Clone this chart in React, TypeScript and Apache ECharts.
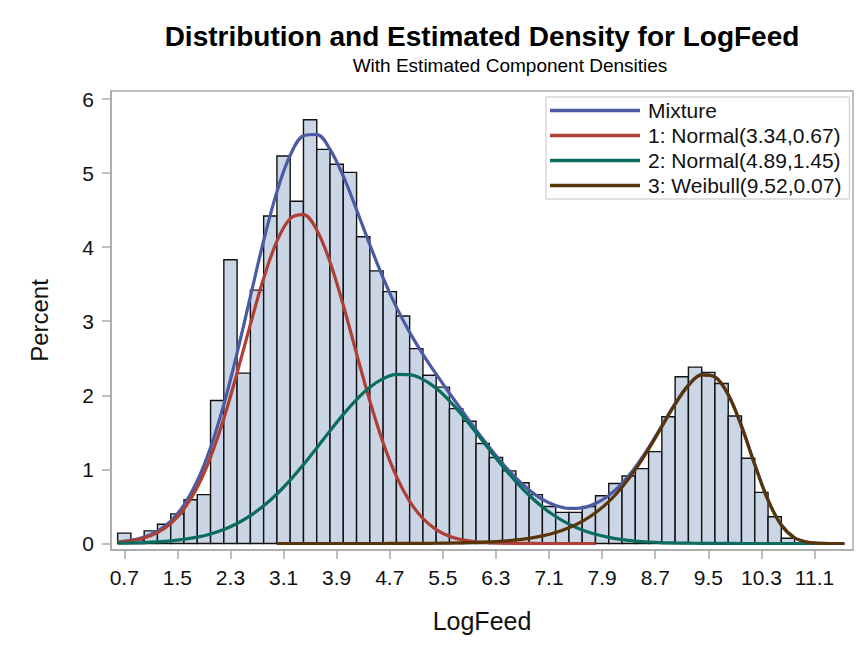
import React, { useEffect, useRef } from "react";
import * as echarts from "echarts";

// Histogram (bin midpoints, percent)
const binMidpoints = [
  0.7, 0.9, 1.1, 1.3, 1.5, 1.7, 1.9, 2.1, 2.3, 2.5, 2.7, 2.9, 3.1, 3.3, 3.5, 3.7, 3.9, 4.1, 4.3, 4.5,
  4.7, 4.9, 5.1, 5.3, 5.5, 5.7, 5.9, 6.1, 6.3, 6.5, 6.7, 6.9, 7.1, 7.3, 7.5, 7.7, 7.9, 8.1, 8.3, 8.5,
  8.7, 8.9, 9.1, 9.3, 9.5, 9.7, 9.9, 10.1, 10.3, 10.5, 10.7,
];
const binPercents = [
  0.14, 0.05, 0.17, 0.26, 0.40, 0.59, 0.66, 1.93, 3.83, 2.30, 3.42, 4.42, 5.23, 4.62, 5.72, 5.32, 5.12, 5.01, 4.14, 3.68,
  3.40, 3.07, 2.63, 2.27, 2.11, 1.82, 1.65, 1.35, 1.16, 0.98, 0.82, 0.66, 0.50, 0.42, 0.42, 0.50, 0.645, 0.81, 0.91, 1.01,
  1.24, 1.71, 2.25, 2.38, 2.31, 2.16, 1.72, 1.15, 0.69, 0.36, 0.07,
];
const binWidth = 0.2;

// Density curves (percent scale), sampled along LogFeed
const curveX = [
  0.6, 0.8, 1.0, 1.2, 1.4, 1.6, 1.8, 2.0, 2.2, 2.4, 2.6, 2.8, 3.0, 3.2, 3.4, 3.6, 3.8, 4.0, 4.2, 4.4,
  4.6, 4.8, 5.0, 5.2, 5.4, 5.6, 5.8, 6.0, 6.2, 6.4, 6.6, 6.8, 7.0, 7.2, 7.4, 7.6, 7.8, 8.0, 8.2, 8.4,
  8.6, 8.8, 9.0, 9.2, 9.4, 9.6, 9.8, 10.0, 10.2, 10.4, 10.6, 10.8, 11.0, 11.2, 11.4, 11.55,
];
const mixtureY = [
  0.020, 0.043, 0.087, 0.167, 0.302, 0.520, 0.843, 1.294, 1.876, 2.572, 3.333, 4.088, 4.750, 5.240, 5.503, 5.521, 5.320, 4.958, 4.505, 4.032,
  3.586, 3.191, 2.850, 2.554, 2.285, 2.028, 1.779, 1.533, 1.298, 1.079, 0.886, 0.722, 0.596, 0.513, 0.474, 0.481, 0.539, 0.648, 0.811, 1.029,
  1.293, 1.589, 1.887, 2.138, 2.279, 2.249, 2.010, 1.584, 1.065, 0.585, 0.249, 0.077, 0.016, 0.002, 0.000, 0.000,
];
const normal1Y = [
  0.016, 0.036, 0.075, 0.146, 0.268, 0.465, 0.758, 1.165, 1.687, 2.302, 2.957, 3.580, 4.082, 4.385, 4.438, 4.231, 3.800, 3.215, 2.562, 1.924,
  1.361, 0.907, 0.569, 0.337, 0.188, 0.098, 0.049, 0.023, 0.010, 0.004, 0.002, 0.001, 0, 0, 0, 0, 0, null, null, null,
  null, null, null, null, null, null, null, null, null, null, null, null, null, null, null, null,
];
const normal2Y = [
  0.004, 0.007, 0.012, 0.021, 0.034, 0.055, 0.085, 0.129, 0.189, 0.270, 0.376, 0.508, 0.668, 0.855, 1.065, 1.290, 1.520, 1.743, 1.943, 2.108,
  2.225, 2.284, 2.280, 2.215, 2.094, 1.925, 1.721, 1.497, 1.267, 1.043, 0.836, 0.651, 0.493, 0.364, 0.261, 0.182, 0.124, 0.082, 0.052, 0.033,
  0.020, 0.012, 0.007, 0.004, 0.002, 0.001, 0.001, 0, 0, 0, 0, 0, 0, 0, 0, 0,
];
const weibullY = [
  null, null, null, null, null, null, null, null, null, null, null, null, 0, 0, 0, 0, 0, 0, 0, 0,
  0, 0.001, 0.001, 0.002, 0.003, 0.005, 0.009, 0.013, 0.021, 0.032, 0.048, 0.070, 0.103, 0.149, 0.213, 0.299, 0.415, 0.566, 0.759, 0.996,
  1.273, 1.577, 1.880, 2.134, 2.277, 2.248, 2.009, 1.584, 1.065, 0.585, 0.249, 0.077, 0.016, 0.002, 0, 0,
];

const xTickValues = [0.7, 1.5, 2.3, 3.1, 3.9, 4.7, 5.5, 6.3, 7.1, 7.9, 8.7, 9.5, 10.3, 11.1];
const yTickValues = [0, 1, 2, 3, 4, 5, 6];

const seriesNames = ["Mixture", "1: Normal(3.34,0.67)", "2: Normal(4.89,1.45)", "3: Weibull(9.52,0.07)"];
const seriesColors = ["#4a5ba4", "#ad3f35", "#0b6c60", "#5a3409"];

const FONT = "'Liberation Sans', Arial, Helvetica, sans-serif";

function toPairs(ys: (number | null)[]) {
  const out: number[][] = [];
  ys.forEach((y, i) => {
    if (y !== null) out.push([curveX[i], y]);
  });
  return out;
}

export default function App() {
  const ref = useRef<HTMLDivElement>(null);

  useEffect(() => {
    if (!ref.current) return;
    const chart = echarts.init(ref.current, undefined, { renderer: "svg" });
    const curves = [mixtureY, normal1Y, normal2Y, weibullY];
    const axisGray = "#a9a9a9";

    chart.setOption({
      animation: false,
      backgroundColor: "#ffffff",
      title: [
        {
          text: "Distribution and Estimated Density for LogFeed",
          left: 477,
          top: 17,
          textAlign: "center",
          textStyle: { fontFamily: FONT, fontSize: 28, fontWeight: "bold", color: "#000" },
        },
        {
          text: "With Estimated Component Densities",
          left: 505,
          top: 51,
          textAlign: "center",
          textStyle: { fontFamily: FONT, fontSize: 19, fontWeight: "normal", color: "#000" },
        },
      ],
      legend: {
        orient: "vertical",
        left: 546,
        top: 97,
        padding: [3, 8, 3, 4],
        itemWidth: 90,
        itemHeight: 3.5,
        itemGap: 4,
        icon: "rect",
        borderColor: "#c4c4c4",
        borderWidth: 1,
        backgroundColor: "#ffffff",
        data: seriesNames,
        textStyle: { fontFamily: FONT, fontSize: 21, color: "#111", lineHeight: 21, padding: [0, 0, 0, 3] },
      },
      grid: {
        left: 111,
        right: 6,
        top: 91,
        bottom: 96,
        show: true,
        borderColor: axisGray,
        borderWidth: 1.5,
        backgroundColor: "transparent",
      },
      xAxis: {
        type: "value",
        min: 0.5,
        max: 11.68,
        name: "LogFeed",
        nameLocation: "middle",
        nameGap: 58,
        nameTextStyle: { fontFamily: FONT, fontSize: 25, color: "#111" },
        axisLine: { show: true, onZero: false, lineStyle: { color: axisGray, width: 1.5 } },
        axisTick: { show: true, length: 9, customValues: xTickValues, lineStyle: { color: axisGray, width: 1.5 } },
        axisLabel: {
          customValues: xTickValues,
          margin: 17,
          fontFamily: FONT,
          fontSize: 21,
          color: "#111",
          formatter: (v: number) => v.toFixed(1),
        },
        splitLine: { show: false },
      },
      yAxis: {
        type: "value",
        min: -0.088,
        max: 6.108,
        name: "Percent",
        nameLocation: "middle",
        nameGap: 60,
        nameTextStyle: { fontFamily: FONT, fontSize: 24, color: "#111" },
        axisLine: { show: true, onZero: false, lineStyle: { color: axisGray, width: 1.5 } },
        axisTick: { show: true, length: 9, customValues: yTickValues, lineStyle: { color: axisGray, width: 1.5 } },
        axisLabel: {
          customValues: yTickValues,
          margin: 17,
          fontFamily: FONT,
          fontSize: 21,
          color: "#111",
        },
        splitLine: { show: false },
      },
      series: [
        {
          type: "custom",
          name: "Histogram",
          z: 1,
          data: binMidpoints.map((m, i) => [m, binPercents[i]]),
          encode: { x: 0, y: 1 },
          renderItem: (_params: any, api: any) => {
            const mid = api.value(0);
            const pct = api.value(1);
            const tl = api.coord([mid - binWidth / 2, pct]);
            const br = api.coord([mid + binWidth / 2, 0]);
            return {
              type: "rect",
              shape: { x: tl[0], y: tl[1], width: br[0] - tl[0], height: br[1] - tl[1] },
              style: { fill: "#cad5e6", stroke: "#111", lineWidth: 1.4 },
            };
          },
        },
        ...curves.map((ys, k) => ({
          type: "line",
          name: seriesNames[k],
          data: toPairs(ys),
          z: 2 + k,
          smooth: 0.35,
          symbol: "none",
          showSymbol: false,
          color: seriesColors[k],
          itemStyle: { color: seriesColors[k] },
          lineStyle: { color: seriesColors[k], width: 3.2 },
        })),
      ],
    });

    return () => chart.dispose();
  }, []);

  return (
    <div
      ref={ref}
      style={{ position: "absolute", left: 0, top: 0, width: 859, height: 646, background: "#fff" }}
    />
  );
}
